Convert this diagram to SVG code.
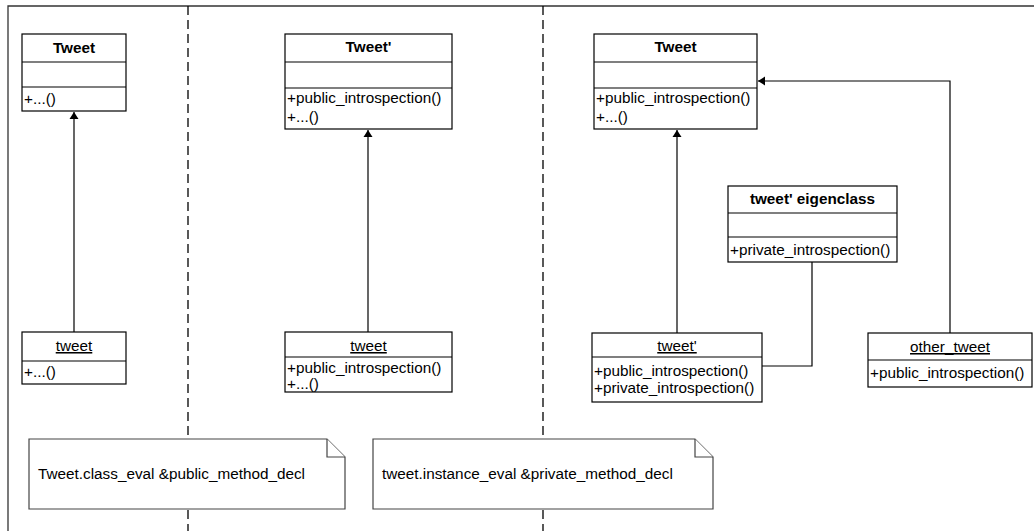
<svg xmlns="http://www.w3.org/2000/svg" width="1034" height="531" viewBox="0 0 1034 531">
<style>
.box{fill:#fff;stroke:#000;stroke-width:1.2}
.div{stroke:#000;stroke-width:1.2}
.t{font-family:"Liberation Sans",Arial,sans-serif;font-size:15.3px;fill:#000}
.b{font-weight:bold;text-anchor:middle}
.u{text-decoration:underline;text-anchor:middle}
.c{fill:none;stroke:#000;stroke-width:1.2}
.dash{fill:none;stroke:#000;stroke-width:1.3;stroke-dasharray:9 5}
.note{fill:#fff;stroke:#444;stroke-width:1.2}
</style>
<defs>
<marker id="arr" markerUnits="userSpaceOnUse" markerWidth="10" markerHeight="10" refX="7" refY="5" orient="auto">
<path d="M0,0.5 L7,5 L0,9.5 z" fill="#000"/>
</marker>
</defs>
<rect width="1034" height="531" fill="#fff"/>
<g id="frame">
<path d="M8,531 V6 H1034" fill="none" stroke="#333" stroke-width="1.3"/>
<line class="dash" x1="188" y1="6" x2="188" y2="531"/>
<line class="dash" x1="543" y1="6" x2="543" y2="531"/>
</g>
<g id="connectors">
<line class="c" x1="74" y1="332" x2="74" y2="112" marker-end="url(#arr)"/>
<line class="c" x1="368" y1="332" x2="368" y2="130" marker-end="url(#arr)"/>
<line class="c" x1="677" y1="333" x2="677" y2="130" marker-end="url(#arr)"/>
<path class="c" d="M950,333 V81 H758" marker-end="url(#arr)"/>
<path class="c" d="M812,262 V366 H762"/>
</g>
<g id="Tweet1">
<rect class="box" x="22" y="34" width="104" height="77"/>
<line class="div" x1="22" y1="62" x2="126" y2="62"/>
<line class="div" x1="22" y1="87" x2="126" y2="87"/>
<text class="t b" x="74" y="53">Tweet</text>
<text class="t" x="24" y="104">+...()</text>
</g>
<g id="tweet1">
<rect class="box" x="22" y="332" width="104" height="52"/>
<line class="div" x1="22" y1="361" x2="126" y2="361"/>
<text class="t u" x="74" y="351">tweet</text>
<text class="t" x="24" y="377">+...()</text>
</g>
<g id="Tweet2">
<rect class="box" x="285" y="34" width="167" height="95"/>
<line class="div" x1="285" y1="62" x2="452" y2="62"/>
<line class="div" x1="285" y1="88" x2="452" y2="88"/>
<text class="t b" x="368.5" y="52">Tweet'</text>
<text class="t" x="287" y="103">+public_introspection()</text>
<text class="t" x="287" y="122">+...()</text>
</g>
<g id="tweet2">
<rect class="box" x="285" y="332" width="167" height="60"/>
<line class="div" x1="285" y1="357" x2="452" y2="357"/>
<text class="t u" x="368.5" y="351">tweet</text>
<text class="t" x="287" y="373">+public_introspection()</text>
<text class="t" x="287" y="389">+...()</text>
</g>
<g id="Tweet3">
<rect class="box" x="594" y="34" width="163" height="95"/>
<line class="div" x1="594" y1="62" x2="757" y2="62"/>
<line class="div" x1="594" y1="88" x2="757" y2="88"/>
<text class="t b" x="675.5" y="52">Tweet</text>
<text class="t" x="596" y="103">+public_introspection()</text>
<text class="t" x="596" y="122">+...()</text>
</g>
<g id="eigenclass">
<rect class="box" x="728" y="186" width="169" height="76"/>
<line class="div" x1="728" y1="213" x2="897" y2="213"/>
<line class="div" x1="728" y1="237" x2="897" y2="237"/>
<text class="t b" x="812.5" y="204">tweet' eigenclass</text>
<text class="t" x="730" y="255">+private_introspection()</text>
</g>
<g id="tweetprime">
<rect class="box" x="592" y="333" width="170" height="69"/>
<line class="div" x1="592" y1="357" x2="762" y2="357"/>
<text class="t u" x="677" y="351">tweet'</text>
<text class="t" x="594" y="376">+public_introspection()</text>
<text class="t" x="594" y="393">+private_introspection()</text>
</g>
<g id="other_tweet">
<rect class="box" x="868" y="333" width="164" height="54"/>
<line class="div" x1="868" y1="360" x2="1032" y2="360"/>
<text class="t u" x="950" y="352">other_tweet</text>
<text class="t" x="870" y="378">+public_introspection()</text>
</g>
<g id="note1">
<path class="note" d="M29,439 H327 L345,457 V509 H29 Z"/>
<path class="note" d="M327,439 V457 H345" fill="none"/>
<text class="t" x="38" y="479">Tweet.class_eval &amp;public_method_decl</text>
</g>
<g id="note2">
<path class="note" d="M373,439 H695 L713,457 V509 H373 Z"/>
<path class="note" d="M695,439 V457 H713" fill="none"/>
<text class="t" x="382" y="479">tweet.instance_eval &amp;private_method_decl</text>
</g>
</svg>
